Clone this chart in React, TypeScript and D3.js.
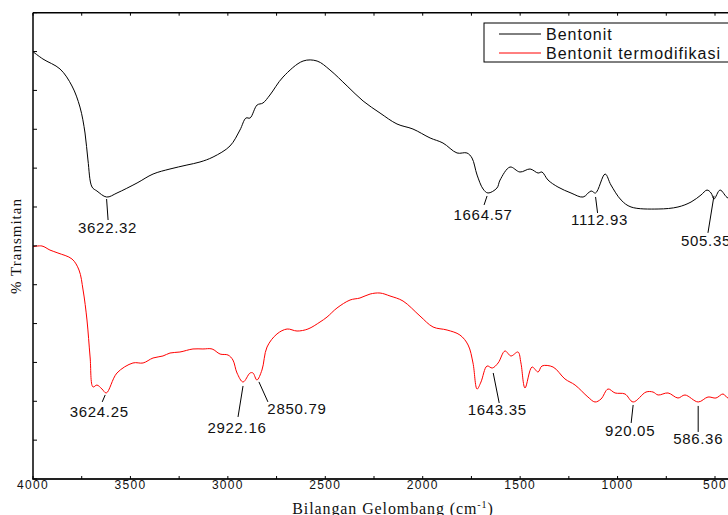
import React from "react";
import * as d3 from "d3";

// Wavenumber (cm-1) and % transmittance readings
const bentonitWn = [4000, 3949, 3861, 3800, 3759, 3733, 3718, 3697, 3672, 3622, 3569, 3466, 3384, 3297, 3210, 3143, 3076, 2989, 2938, 2907, 2886, 2850, 2820, 2784, 2717, 2614, 2542, 2476, 2388, 2306, 2219, 2132, 2050, 1962, 1896, 1824, 1773, 1747, 1721, 1690, 1665, 1619, 1603, 1552, 1501, 1449, 1408, 1388, 1357, 1306, 1239, 1177, 1136, 1113, 1064, 1034, 982, 931, 792, 690, 623, 572, 541, 520, 505, 474, 433, 400];
const bentonitT = [54.98, 54.04, 52.75, 50.57, 47.86, 44.52, 41.05, 37.57, 37.06, 36.28, 36.8, 38.09, 39.24, 39.89, 40.4, 40.79, 41.43, 42.85, 44.9, 46.45, 46.45, 48.12, 48.38, 49.41, 51.72, 53.78, 53.78, 52.63, 50.57, 48.64, 47.09, 45.68, 45.03, 43.88, 43.23, 41.95, 41.95, 41.3, 39.11, 37.31, 36.8, 37.44, 38.47, 40.14, 39.5, 39.89, 39.37, 39.5, 38.47, 37.57, 36.8, 36.28, 37.06, 36.8, 39.24, 37.83, 35.9, 35.0, 34.74, 35.0, 35.64, 36.54, 37.18, 36.8, 36.03, 37.18, 36.16, 36.5];

const termoWn = [4000, 3954, 3913, 3872, 3800, 3764, 3743, 3723, 3707, 3692, 3672, 3646, 3624, 3569, 3487, 3435, 3384, 3333, 3297, 3246, 3179, 3128, 3081, 3040, 2999, 2974, 2953, 2922, 2886, 2871, 2851, 2825, 2799, 2748, 2696, 2645, 2589, 2527, 2491, 2440, 2373, 2322, 2270, 2219, 2168, 2101, 2014, 1947, 1875, 1809, 1767, 1742, 1721, 1701, 1670, 1643, 1613, 1578, 1547, 1511, 1496, 1475, 1439, 1408, 1388, 1331, 1270, 1218, 1152, 1116, 1085, 1049, 1013, 962, 920, 854, 818, 792, 741, 690, 654, 586, 536, 495, 459, 433, 400];
const termoT = [29.89, 29.98, 29.46, 29.08, 28.31, 26.89, 24.32, 20.46, 15.7, 11.84, 12.09, 11.58, 11.07, 13.64, 14.93, 14.93, 15.57, 15.83, 16.21, 16.34, 16.73, 16.73, 16.73, 16.08, 15.95, 15.31, 13.64, 12.48, 13.64, 13.64, 12.74, 14.02, 16.98, 18.66, 19.3, 19.04, 19.3, 20.2, 20.84, 22.0, 23.03, 23.29, 23.8, 23.93, 23.55, 22.9, 20.97, 19.56, 19.17, 18.53, 17.24, 14.93, 11.58, 12.48, 14.54, 14.28, 14.93, 16.47, 15.83, 16.34, 14.93, 11.71, 14.41, 13.77, 14.54, 14.41, 12.87, 12.09, 10.55, 9.91, 10.29, 11.58, 11.07, 10.94, 9.91, 11.19, 11.19, 10.81, 11.07, 10.42, 10.81, 9.91, 10.55, 10.42, 10.94, 10.42, 10.8];

const seriesNames = ["Bentonit", "Bentonit termodifikasi"];
const seriesColors = ["#000000", "#ff0000"];

const xTickValues = [4000, 3500, 3000, 2500, 2000, 1500, 1000, 500];

// Peak annotations: series index, wavenumber, label
const peakSeries = [0, 0, 0, 0, 1, 1, 1, 1, 1, 1];
const peakWn = [3622.32, 1664.57, 1112.93, 505.35, 3624.25, 2922.16, 2850.79, 1643.35, 920.05, 586.36];
const peakLabels = ["3622.32", "1664.57", "1112.93", "505.35", "3624.25", "2922.16", "2850.79", "1643.35", "920.05", "586.36"];
// leader-line / label offsets relative to the peak [x1, y1, x2, y2, tx, ty]
const peakOffsets = [
  [0, 2, 1.5, 23, 1, 36],
  [-1, 3, -4, 12, -5, 27],
  [0, 4, 2, 20, 4, 32],
  [0, -3, -6, 34, -8, 47],
  [-1, 2, -4, 9, -7, 24],
  [0, 4, -5, 35, -6, 51],
  [2, 2, 11, 22, 40, 34],
  [1, 5, 7, 35, 5, 47],
  [0, 3, -2, 21, -3, 34],
  [0, 4, 0, 30, 0, 42],
];

const W = 728;
const H = 515;
const left = 33;
const top = 12.7;
const bottom = 479;

export default function App() {
  const x = d3.scaleLinear().domain([4000, 500]).range([left, left + 682]);
  const y = d3.scaleLinear().domain([0, 60]).range([bottom, top]);
  const right = x(400);

  const series = [
    bentonitWn.map((w, i) => [w, bentonitT[i]] as [number, number]),
    termoWn.map((w, i) => [w, termoT[i]] as [number, number]),
  ];
  const line = d3
    .line<[number, number]>()
    .x((d) => x(d[0]))
    .y((d) => y(d[1]))
    .curve(d3.curveCatmullRom.alpha(0.5));

  const minorTicks = d3.range(4000, 399, -250);
  const yTicks = d3.range(0, 61, 5);

  const valueAt = (s: number, w: number) => {
    const data = series[s];
    const interp = d3.scaleLinear().domain(data.map((d) => d[0])).range(data.map((d) => d[1]));
    return interp(w);
  };

  const sans = "'Liberation Sans', Arial, sans-serif";
  const serif = "'Liberation Serif', 'Times New Roman', serif";

  return (
    <div style={{ position: "fixed", left: 0, top: 0, width: W, height: H, overflow: "hidden", background: "#fff" }}>
      <svg width={W} height={H} style={{ display: "block" }}>
        <rect x={0} y={0} width={W} height={H} fill="#fff" />
        {/* curves */}
        {series.map((s, i) => (
          <path key={i} d={line(s) || ""} fill="none" stroke={seriesColors[i]} strokeWidth={1} />
        ))}
        {/* frame */}
        <line x1={left} y1={top} x2={right} y2={top} stroke="#000" strokeWidth={1.5} />
        <line x1={left} y1={top} x2={left} y2={bottom} stroke="#000" strokeWidth={1.5} />
        <line x1={left - 0.75} y1={bottom} x2={right} y2={bottom} stroke="#222" strokeWidth={2} />
        {minorTicks.map((t) => (
          <g key={t}>
            <line x1={x(t)} x2={x(t)} y1={top} y2={top + 3} stroke="#000" strokeWidth={1} />
            <line x1={x(t)} x2={x(t)} y1={bottom} y2={bottom - 3} stroke="#000" strokeWidth={1} />
          </g>
        ))}
        {yTicks.map((t) => (
          <line key={t} x1={left} x2={left + 4} y1={y(t)} y2={y(t)} stroke="#000" strokeWidth={1} />
        ))}
        {xTickValues.map((t) => (
          <text key={t} x={x(t)} y={489} textAnchor="middle" fontFamily={sans} fontSize={12} letterSpacing={1.3} fill="#111">
            {t}
          </text>
        ))}
        {/* axis titles */}
        <text x={393} y={514} textAnchor="middle" fontFamily={serif} fontSize={16} letterSpacing={0.9} fill="#111">
          Bilangan Gelombang (cm
          <tspan dy={-6} fontSize={10}>-1</tspan>
          <tspan dy={6}>)</tspan>
        </text>
        <text transform="translate(21,246) rotate(-90)" textAnchor="middle" fontFamily={serif} fontSize={15} letterSpacing={1} fill="#111">
          % Transmitan
        </text>
        {/* peak annotations */}
        {peakWn.map((w, i) => {
          const px = x(w);
          const py = y(valueAt(peakSeries[i], w));
          const o = peakOffsets[i];
          return (
            <g key={i}>
              <line x1={px + o[0]} y1={py + o[1]} x2={px + o[2]} y2={py + o[3]} stroke="#000" strokeWidth={1} />
              <text x={px + o[4]} y={py + o[5]} textAnchor="middle" fontFamily={sans} fontSize={15} letterSpacing={0.7} fill="#111">
                {peakLabels[i]}
              </text>
            </g>
          );
        })}
        {/* legend */}
        <rect x={484} y={23} width={270} height={39} fill="#fff" stroke="#000" strokeWidth={1} />
        {seriesNames.map((n, i) => (
          <g key={n}>
            <line x1={499} x2={541} y1={34 + i * 19} y2={34 + i * 19} stroke={seriesColors[i]} strokeWidth={1} />
            <text x={546} y={40 + i * 19} fontFamily={sans} fontSize={16} letterSpacing={1} fill="#111">
              {n}
            </text>
          </g>
        ))}
      </svg>
    </div>
  );
}
